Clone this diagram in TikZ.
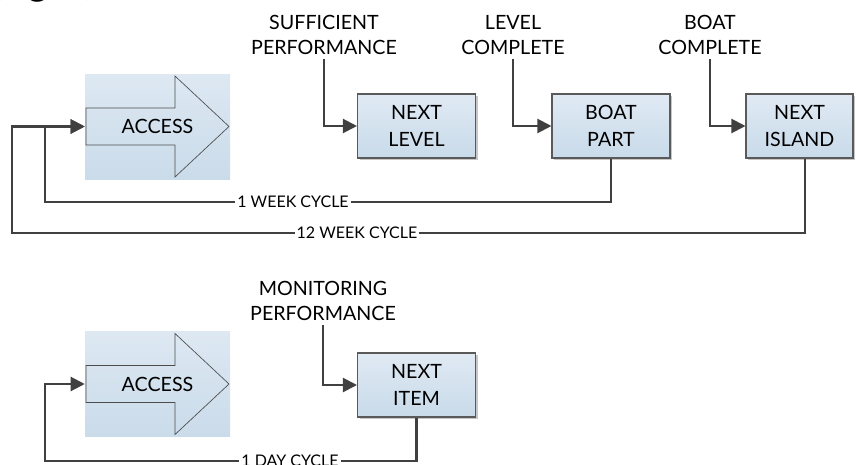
\documentclass[tikz,border=0pt]{standalone}
\usepackage{fontspec}
\setmainfont{Lato}
\usetikzlibrary{arrows.meta,shadows}
\definecolor{linec}{HTML}{404040}
\definecolor{boxtop}{HTML}{E0EAF4}
\definecolor{boxbot}{HTML}{C8DAE9}
\definecolor{acctop}{HTML}{DDE8F2}
\definecolor{accbot}{HTML}{CADBEA}
\definecolor{boxedge}{HTML}{5A5A5A}
\tikzset{
  box/.style={draw=boxedge, line width=0.8pt, top color=boxtop, bottom color=boxbot,
    minimum width=88.5pt, minimum height=48pt, align=center, inner sep=2pt,
    font=\fontsize{14.75}{20.5}\selectfont,
    drop shadow={shadow xshift=1.8pt, shadow yshift=-1.8pt, fill=black!22, opacity=1}},
  accbox/.style={top color=acctop, bottom color=accbot, minimum width=108.75pt,
    minimum height=78.75pt, inner sep=0pt},
  acctext/.style={font=\fontsize{14.75}{17}\selectfont},
  lab/.style={align=center, font=\fontsize{14.75}{19}\selectfont, inner sep=3pt},
  cyc/.style={fill=white, inner sep=1.5pt, font=\fontsize{12}{14}\selectfont},
  conn/.style={draw=linec, line width=1.6pt, -{Triangle[length=10.5pt,width=10.5pt]}},
  loop/.style={draw=linec, line width=1.6pt, -{Triangle[length=10.5pt,width=10.5pt]}},
  arrowline/.style={draw=black!70, line width=0.5pt},
  accarrow/.pic={\draw[arrowline] (-71.5,-18.5) -- (17.5,-18.5) -- (17.5,-50.5) -- (71.5,0)
     -- (17.5,50.5) -- (17.5,18.5) -- (-71.5,18.5) -- cycle;}
}
\begin{document}
\begin{tikzpicture}[x=0.75pt,y=-0.75pt]
\useasboundingbox (0,0) rectangle (856,464);
% cropped caption fragment
\node[anchor=base west, inner sep=0pt, font=\fontsize{32}{32}\selectfont\itshape] (cap) at (-4,-6) {(fig 5)};
% top row
\node[accbox] (acc1) at (157.5,126.5) {};
\pic at (acc1.center) {accarrow};
\node[acctext] (acct1) at (acc1.center) {ACCESS};
\node[box] (nl) at (416.5,126) {NEXT\\LEVEL};
\node[box] (bp) at (611,126) {BOAT\\PART};
\node[box, minimum width=80.25pt] (nisl) at (799.5,126) {NEXT\\ISLAND};
\node[lab] (l1) at (324,35) {SUFFICIENT\\PERFORMANCE};
\node[lab] (l2) at (513,35) {LEVEL\\COMPLETE};
\node[lab] (l3) at (710,35) {BOAT\\COMPLETE};
\coordinate (k1) at (45,202);
\coordinate (k12) at (12,233);
\draw[conn] (l1.south) |- (nl.west);
\draw[conn] (l2.south) |- (bp.west);
\draw[conn] (l3.south) |- (nisl.west);
\draw[loop] ([xshift=4pt]nisl.south) |- (k12) |- (acc1.west);
\draw[loop] (bp.south) |- (k1) |- (acc1.west);
\node[cyc] (c1) at (293,202) {1 WEEK CYCLE};
\node[cyc] (c12) at (357,233) {12 WEEK CYCLE};
% bottom row
\node[accbox] (acc2) at (157.5,384) {};
\pic at (acc2.center) {accarrow};
\node[acctext] (acct2) at (acc2.center) {ACCESS};
\node[box] (ni) at (416.5,385) {NEXT\\ITEM};
\node[lab] (l4) at (323,301) {MONITORING\\PERFORMANCE};
\coordinate (kd) at (45,461);
\draw[conn] (l4.south) |- (ni.west);
\draw[loop] (ni.south) |- (kd) |- (acc2.west);
\node[cyc] (cd) at (290,461) {1 DAY CYCLE};
\end{tikzpicture}
\end{document}
